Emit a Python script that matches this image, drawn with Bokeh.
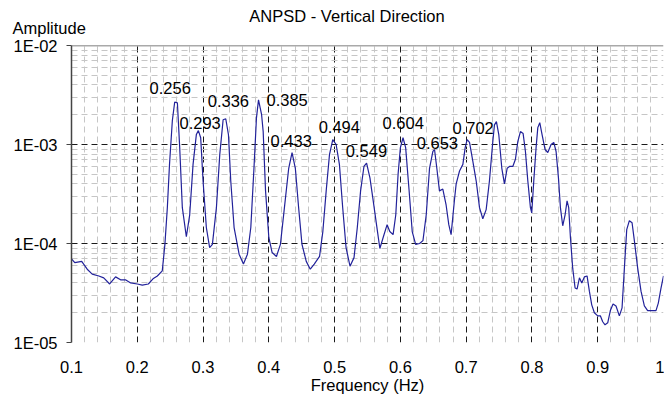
import numpy as np
from bokeh.plotting import figure
from bokeh.models import ColumnDataSource, FixedTicker, Label, Span
from bokeh.embed import file_html
from bokeh.resources import INLINE
from bokeh.core.properties import value

# ---------------- data ----------------
freq = [
    0.1, 0.105, 0.1155, 0.1239, 0.1315, 0.1416, 0.149, 0.158, 0.167, 0.1746,
    0.182, 0.19, 0.2, 0.2076, 0.2168, 0.2239, 0.2305, 0.238, 0.242, 0.2457,
    0.249, 0.2533, 0.2569, 0.261, 0.2645, 0.2685, 0.2746, 0.2797, 0.2848, 0.2898,
    0.2929, 0.2964, 0.3, 0.305, 0.31, 0.3142, 0.3203, 0.3254, 0.3305, 0.3345,
    0.3386, 0.3421, 0.3472, 0.3548, 0.3614, 0.3675, 0.3726, 0.3777, 0.3812, 0.3843,
    0.389,
    0.3914, 0.395, 0.4, 0.405, 0.4116, 0.4176, 0.4237, 0.4302, 0.4353, 0.4403,
    0.4453, 0.4504, 0.4569, 0.463, 0.469, 0.4771, 0.4821, 0.4872, 0.4922, 0.4972,
    0.5023, 0.5073, 0.5123, 0.5174, 0.5234, 0.5295, 0.5345, 0.5395, 0.5446, 0.5486,
    0.5537, 0.5587, 0.5637, 0.5688, 0.5738, 0.5798, 0.5839, 0.5889, 0.593, 0.5965,
    0.6, 0.604, 0.608, 0.613, 0.618, 0.6232, 0.6292, 0.6343, 0.6393, 0.6443,
    0.6494, 0.6519, 0.6554, 0.6594, 0.6645, 0.6695, 0.6736, 0.6771, 0.6823,
    0.6848, 0.6899, 0.695, 0.6985, 0.7015, 0.7051, 0.7101, 0.7152, 0.7203, 0.7253,
    0.7304, 0.7354, 0.7405, 0.743, 0.746, 0.7496, 0.7542, 0.7582, 0.7623, 0.7658,
    0.7709, 0.7749, 0.7785, 0.7825, 0.7866, 0.7901, 0.7937, 0.7977, 0.7997, 0.8028,
    0.8063, 0.8089, 0.8119, 0.8154, 0.82, 0.8241, 0.8291, 0.8332, 0.8367, 0.8403,
    0.8433, 0.8468, 0.8504, 0.8534, 0.8559, 0.8585, 0.862, 0.8656, 0.8686, 0.8722,
    0.8757, 0.8797, 0.8838, 0.8873, 0.8909, 0.8949, 0.9, 0.904, 0.9076, 0.9111,
    0.9152, 0.9192, 0.9233, 0.9278, 0.9329, 0.937, 0.9405, 0.9441, 0.9481, 0.9522,
    0.9557, 0.9608, 0.9658, 0.9709, 0.9759, 0.9835, 0.9886, 0.9921, 0.9962, 1.0,
]

amplitude = [
    7.0e-5, 6.4e-5, 6.6e-5, 5.5e-5, 4.9e-5, 4.7e-5, 4.5e-5, 3.9e-5, 4.6e-5, 4.3e-5,
    4.3e-5, 4.0e-5, 3.9e-5, 3.8e-5, 3.9e-5, 4.4e-5, 4.7e-5, 5.3e-5, 9.8e-5, 2.3e-4,
    6.3e-4, 1.74e-3, 2.69e-3, 2.63e-3, 9.3e-4, 2.3e-4, 1.17e-4, 1.95e-4, 6.3e-4, 1.26e-3,
    1.38e-3, 1.17e-3, 4.3e-4, 1.45e-4, 9.1e-5, 9.8e-5, 2.3e-4, 7.9e-4, 1.78e-3, 1.82e-3,
    1.26e-3, 4.3e-4, 1.45e-4, 7.8e-5, 6.2e-5, 7.8e-5, 1.45e-4, 6.3e-4, 1.86e-3, 2.82e-3,
    2.0e-3,
    1.35e-3, 3.4e-4, 1.15e-4, 8.1e-5, 7.4e-5, 9.8e-5, 2.3e-4, 5.75e-4, 8.3e-4, 5.75e-4,
    2.3e-4, 9.8e-5, 6.6e-5, 5.5e-5, 6.2e-5, 7.4e-5, 1.32e-4, 3.4e-4, 7.9e-4, 1.12e-3,
    1.0e-3, 6.3e-4, 2.3e-4, 9.1e-5, 5.9e-5, 7.2e-5, 1.45e-4, 3.4e-4, 6.0e-4, 6.5e-4,
    4.6e-4, 2.7e-4, 1.55e-4, 8.9e-5, 1.15e-4, 1.55e-4, 1.32e-4, 1.23e-4, 1.95e-4, 5.0e-4,
    9.3e-4, 1.17e-3, 9.3e-4, 3.6e-4, 1.32e-4, 9.8e-5, 1.0e-4, 1.07e-4, 1.95e-4, 5.75e-4,
    8.5e-4, 8.9e-4, 5.75e-4, 3.4e-4, 3.55e-4, 2.45e-4, 1.55e-4, 1.23e-4, 2.8e-4,
    4.0e-4, 5.4e-4, 6.3e-4, 9.3e-4, 1.12e-3, 1.05e-3, 6.8e-4, 4.3e-4, 2.3e-4, 1.78e-4,
    2.2e-4, 4.3e-4, 1.07e-3, 1.58e-3, 1.7e-3, 1.26e-3, 5.75e-4, 4.0e-4, 5.75e-4, 6.0e-4,
    6.0e-4, 7.1e-4, 1.07e-3, 1.35e-3, 1.29e-3, 8.5e-4, 4.3e-4, 2.3e-4, 2.04e-4, 4.3e-4,
    9.3e-4, 1.48e-3, 1.66e-3, 1.26e-3, 8.9e-4, 8.3e-4, 1.0e-3, 1.05e-3, 8.5e-4, 4.6e-4,
    2.3e-4, 1.51e-4, 1.95e-4, 2.7e-4, 2.3e-4, 1.15e-4, 5.6e-5, 3.55e-5, 3.47e-5, 4.5e-5,
    4.0e-5, 4.6e-5, 4.7e-5, 3.3e-5, 2.4e-5, 2.0e-5, 1.86e-5, 1.86e-5, 1.62e-5, 1.51e-5,
    1.58e-5, 2.1e-5, 2.45e-5, 2.34e-5, 1.86e-5, 2.24e-5, 5.6e-5, 1.38e-4, 1.7e-4, 1.62e-4,
    1.07e-4, 5.6e-5, 3.3e-5, 2.34e-5, 2.1e-5, 2.1e-5, 2.1e-5, 2.5e-5, 3.55e-5, 4.7e-5,
]

peak_freqs = [0.256, 0.293, 0.336, 0.385, 0.433, 0.494, 0.549, 0.604, 0.653, 0.702]
peak_texts = ["0.256", "0.293", "0.336", "0.385", "0.433",
              "0.494", "0.549", "0.604", "0.653", "0.702"]

x_ticks = [0.1, 0.2, 0.3, 0.4, 0.5, 0.6, 0.7, 0.8, 0.9, 1.0]
x_tick_labels = ["0.1", "0.2", "0.3", "0.4", "0.5", "0.6", "0.7", "0.8", "0.9", "1"]
y_ticks = [1e-5, 1e-4, 1e-3, 1e-2]
y_tick_labels = ["1E-05", "1E-04", "1E-03", "1E-02"]

# label placement (pixel offsets from the peak)
label_dx = [-24.5, -19, -19, 7.5, -20, -12, -21, -20.5, -18.5, -15]
label_dy = [-14, -7.5, -17.5, 0.5, -11.5, -13, -12.5, -14.5, -7, -11.5]

FONT = "Liberation Sans"
FS = "16.5px"

# ---------------- figure ----------------
p = figure(width=664, height=396, x_range=(0.1, 1.0), y_range=(1e-5, 1e-2),
           y_axis_type="log", output_backend="svg", toolbar_location=None,
           min_border_left=71, min_border_right=1, min_border_top=45,
           min_border_bottom=54, title=None)
p.outline_line_color = None
p.background_fill_color = "white"
p.border_fill_color = "white"

x_minor = [round(0.1 + 0.02 * i, 2) for i in range(46) if i % 5 != 0]
y_minor = [k * 10.0 ** e for e in (-5, -4, -3) for k in range(2, 10)]
xt = FixedTicker(ticks=x_ticks, minor_ticks=x_minor)
yt = FixedTicker(ticks=y_ticks, minor_ticks=y_minor)
p.xaxis.ticker = xt
p.yaxis.ticker = yt
p.xgrid.ticker = xt
p.ygrid.ticker = yt

for g in (p.xgrid, p.ygrid):
    g.grid_line_color = "#1a1a1a"
    g.grid_line_dash = "6 4"
    g.grid_line_width = 1
    g.minor_grid_line_color = "#c6c6c6"
    g.minor_grid_line_dash = "6 4"
    g.minor_grid_line_width = 1

p.xaxis.major_label_overrides = dict(zip(x_ticks, x_tick_labels))
p.yaxis.major_label_overrides = dict(zip(y_ticks, y_tick_labels))

p.yaxis.axis_line_color = "#444444"
p.yaxis.axis_line_width = 1.5
p.yaxis.major_tick_line_color = "#444444"
p.yaxis.major_tick_out = 5
p.yaxis.major_tick_in = 0
p.yaxis.minor_tick_out = 0
p.yaxis.minor_tick_in = 0
p.yaxis.major_label_standoff = 9
p.yaxis.major_label_text_font = FONT
p.yaxis.major_label_text_font_size = FS
p.yaxis.major_label_text_color = "black"

p.xaxis.axis_line_color = None
p.xaxis.major_tick_line_color = None
p.xaxis.minor_tick_line_color = None
p.xaxis.major_label_standoff = 12
p.xaxis.major_label_text_font = FONT
p.xaxis.major_label_text_font_size = FS
p.xaxis.major_label_text_color = "black"
p.xaxis.axis_label = "Frequency (Hz)"
p.xaxis.axis_label_standoff = 0
p.xaxis.axis_label_text_font = FONT
p.xaxis.axis_label_text_font_size = FS
p.xaxis.axis_label_text_font_style = "normal"
p.xaxis.axis_label_text_color = "black"

p.add_layout(Span(location=1e-2, dimension="width", line_color="#555555", line_width=1.3))

p.line(freq, amplitude, line_color="#22229a", line_width=1.2)

# peak labels placed at the local maximum of the data
f_arr = np.array(freq)
a_arr = np.array(amplitude)
peak_amps = [float(a_arr[np.abs(f_arr - f) < 0.006].max()) for f in peak_freqs]
lsrc = ColumnDataSource(dict(x=peak_freqs, y=peak_amps, text=peak_texts,
                             dx=label_dx, dy=label_dy))
p.text(x="x", y="y", text="text", source=lsrc, x_offset="dx", y_offset="dy",
       text_font=value(FONT), text_font_size=FS, text_align="left",
       text_baseline="alphabetic", text_color="black")

# title and y-label: placed in the top side panel (outside the frame), canvas coords
p.add_layout(Label(x=12, y=27.5, x_units="canvas", y_units="canvas",
                   text="Amplitude", text_align="left",
                   text_baseline="alphabetic", text_font=FONT, text_font_size=FS,
                   text_color="black"), "above")
p.add_layout(Label(x=346.5, y=15.7, x_units="canvas", y_units="canvas",
                   text="ANPSD - Vertical Direction", text_align="center",
                   text_baseline="alphabetic", text_font=FONT, text_font_size=FS,
                   text_color="black"), "above")

open("out.html", "w").write(file_html(p, INLINE))
